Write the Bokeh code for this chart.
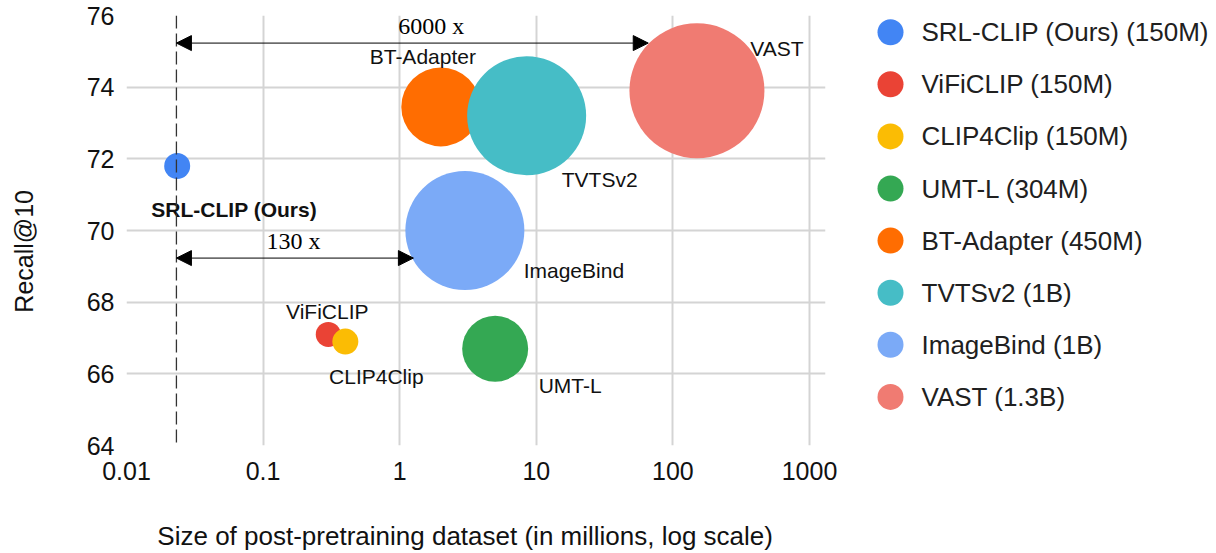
import numpy as np
from bokeh.plotting import figure
from bokeh.models import (ColumnDataSource, Range1d, FixedTicker, Span, Arrow,
                          NormalHead, Label)
from bokeh.layouts import row
from bokeh.embed import file_html
from bokeh.resources import INLINE
from bokeh.core.properties import value

# ---------------- data ----------------
models = ["SRL-CLIP (Ours)", "ViFiCLIP", "CLIP4Clip", "UMT-L",
          "BT-Adapter", "TVTSv2", "ImageBind", "VAST"]
model_params = ["150M", "150M", "150M", "304M", "450M", "1B", "1B", "1.3B"]
dataset_size_m = [0.0235, 0.30, 0.40, 5.0, 2.0, 8.5, 3.0, 150.0]
recall_at_10 = [71.8, 67.1, 66.9, 66.7, 73.45, 73.2, 70.0, 73.9]
bubble_size = [26, 25, 26, 66, 79, 119, 119, 135]
colors = ["#4285F4", "#EA4335", "#FBBC04", "#34A853",
          "#FF6D01", "#46BDC6", "#7BAAF7", "#F07B72"]

x_ticks = [0.01, 0.1, 1, 10, 100, 1000]
x_tick_labels = ["0.01", "0.1", "1", "10", "100", "1000"]
y_ticks = [64, 66, 68, 70, 72, 74, 76]
x_title = "Size of post-pretraining dataset (in millions, log scale)"
y_title = "Recall@10"

ours_x = 0.0232
arrow_ends = [66.0, 1.26]
arrow_y = [75.23, 69.23]
arrow_texts = ["6000 x", "130 x"]

# ---------------- layout / style ----------------
FONT = "Liberation Sans"
NBSP = "\u00a0"
label_dx = [57, -1, 31, 75, -18, 73, 109, 80]
label_dy = [43, -23, 35, 37, -50, 64, 40, -42]
label_style = ["bold"] + ["normal"] * 7

W_MAIN, H = 840, 553
B_TOP, B_BOTTOM = 15, 108
p = figure(width=W_MAIN, height=H, x_axis_type="log",
           x_range=Range1d(0.01, 1310), y_range=Range1d(64, 76),
           min_border_left=126, min_border_right=15, min_border_top=B_TOP,
           min_border_bottom=B_BOTTOM, toolbar_location=None, output_backend="svg")
p.outline_line_color = None
p.background_fill_color = "white"

p.xaxis.ticker = FixedTicker(ticks=x_ticks, minor_ticks=[])
p.xaxis.major_label_overrides = {t: l for t, l in zip(x_ticks, x_tick_labels)}
p.yaxis.ticker = FixedTicker(ticks=y_ticks, minor_ticks=[])
p.xgrid.ticker = FixedTicker(ticks=x_ticks, minor_ticks=[])
p.ygrid.ticker = FixedTicker(ticks=y_ticks, minor_ticks=[])
for g in (p.xgrid, p.ygrid):
    g.grid_line_color = "#d4d4d4"
    g.grid_line_width = 2

for ax in (p.xaxis, p.yaxis):
    ax.axis_line_color = None
    ax.major_tick_line_color = None
    ax.minor_tick_line_color = None
    ax.major_tick_out = 0
    ax.major_label_text_font = FONT
    ax.major_label_text_font_size = "25px"
    ax.major_label_text_color = "#111111"
    ax.axis_label_text_font = FONT
    ax.axis_label_text_font_style = "normal"
    ax.axis_label_text_color = "#111111"

# trailing non-breaking spaces nudge the titles off-centre as in the reference
p.xaxis.axis_label = x_title + NBSP * 3
p.xaxis.axis_label_text_font_size = "26px"
p.yaxis.axis_label = y_title + NBSP * 6
p.yaxis.axis_label_text_font_size = "25px"
p.xaxis.major_label_standoff = 16
p.xaxis.axis_label_standoff = 38
p.yaxis.major_label_standoff = 12
p.yaxis.axis_label_standoff = 46

p.add_layout(Span(location=ours_x, dimension="height", line_color="#333333",
                  line_width=1.3, line_dash="13 5"))

src = ColumnDataSource(dict(x=dataset_size_m, y=recall_at_10, size=bubble_size,
                            color=colors, name=models, dx=label_dx, dy=label_dy,
                            style=label_style))
p.scatter(x="x", y="y", size="size", fill_color="color", line_color=None,
          source=src)

for x_end, y in zip(arrow_ends, arrow_y):
    p.add_layout(Arrow(x_start=ours_x, y_start=y, x_end=x_end, y_end=y,
                       line_color="black", line_width=1,
                       start=NormalHead(size=15, fill_color="black", line_color="black"),
                       end=NormalHead(size=15, fill_color="black", line_color="black")))

# arrow captions
p.add_layout(Label(x=1.7, y=arrow_y[0], text=arrow_texts[0], y_offset=17,
                   text_align="center", text_baseline="middle",
                   text_font="Liberation Serif", text_font_size="24px",
                   text_color="black"))
p.add_layout(Label(x=0.167, y=arrow_y[1], text=arrow_texts[1], y_offset=17,
                   text_align="center", text_baseline="middle",
                   text_font="Liberation Serif", text_font_size="24px",
                   text_color="black"))

p.text(x="x", y="y", text="name", x_offset="dx", y_offset="dy",
       text_font=value(FONT), text_font_size="21px", text_font_style="style",
       text_align="center", text_baseline="middle", text_color="#111111",
       source=src)

# ---------------- legend panel ----------------
LW = 1216 - W_MAIN
leg = figure(width=LW, height=H, x_range=Range1d(0, LW),
             y_range=Range1d(H - B_BOTTOM, B_TOP),
             x_axis_location=None, y_axis_location=None,
             min_border_left=0, min_border_right=0,
             min_border_top=B_TOP, min_border_bottom=B_BOTTOM,
             toolbar_location=None, output_backend="svg")
leg.grid.visible = False
leg.outline_line_color = None
idx = np.arange(len(models))
leg_src = ColumnDataSource(dict(
    x=np.full(len(models), 50.0), tx=np.full(len(models), 81.0),
    y=31.7 + 52.1 * idx, color=colors,
    text=[f"{m} ({s})" for m, s in zip(models, model_params)]))
leg.scatter(x="x", y="y", size=26, fill_color="color", line_color=None, source=leg_src)
leg.text(x="tx", y="y", text="text", text_font=value(FONT), text_font_size="26px",
         text_baseline="middle", text_align="left", text_color="#202020",
         source=leg_src)

layout = row(p, leg)
open("out.html", "w").write(file_html(layout, INLINE))
